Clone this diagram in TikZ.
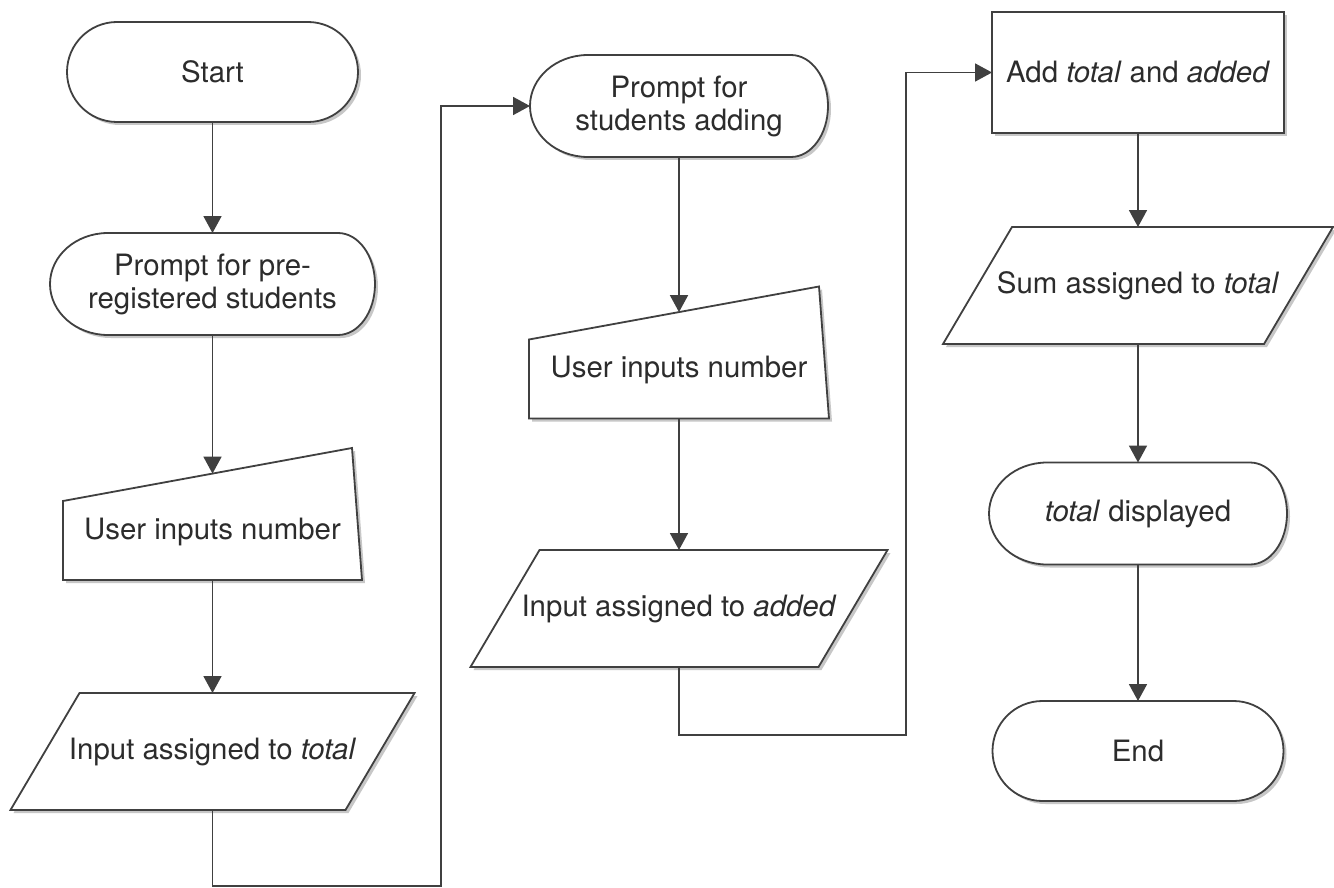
\documentclass[tikz,border=0pt]{standalone}
\usepackage{fontspec}
\setmainfont{TeX Gyre Heros}
\usetikzlibrary{arrows.meta, shapes.misc, shadows, backgrounds}

\definecolor{ink}{HTML}{2c2c2c}
\definecolor{edge}{HTML}{404040}

\tikzset{
  txt/.style={font=\fontsize{14.7}{16.5}\selectfont, text=ink, align=center, inner sep=2pt, outer sep=0pt},
  dropshade/.style={drop shadow={shadow xshift=1.5pt, shadow yshift=-1.5pt, fill=black!22, opacity=1}},
  outl/.style={draw=edge, line width=0.9pt, fill=white, dropshade},
  terminal/.style={txt, outl, rounded rectangle, minimum width=149.5pt, minimum height=50pt},
  process/.style={txt, outl, rectangle, minimum width=146pt, minimum height=60.5pt},
  iodata/.style={txt, minimum height=58.5pt},
  ask/.style={txt, minimum height=51pt},
  manual/.style={txt, minimum width=149.5pt, minimum height=66pt, text height=25pt, text depth=0pt},
  arr/.style={draw=edge, line width=0.9pt, -{Triangle[length=8.5pt, width=9pt]}}
}

\begin{document}
\begin{tikzpicture}[x=0.5pt, y=-0.5pt]
  \useasboundingbox (0,0) rectangle (1334,888);

  % left column
  \node[terminal] (start) at (212.5,72) {Start};
  \node[ask, minimum width=162.5pt] (ask1) at (212.5,284) {Prompt for pre-\\registered students};
  \node[manual] (input1) at (212.5,514) {User inputs number};
  \node[iodata, minimum width=202pt] (assign1) at (212.5,751.5) {Input assigned to \textit{total}};

  % middle column
  \node[ask, minimum width=149pt] (ask2) at (679,106) {Prompt for\\students adding};
  \node[manual, minimum width=150pt] (input2) at (679,352.5) {User inputs number};
  \node[iodata, minimum width=208.5pt] (assign2) at (679,608.5) {Input assigned to \textit{added}};

  % right column
  \node[process] (add) at (1138,72.5) {Add \textit{total} and \textit{added}};
  \node[iodata, minimum width=195pt] (assign3) at (1138,285.5) {Sum assigned to \textit{total}};
  \node[ask, minimum width=149pt] (show) at (1138,513.5) {\textit{total} displayed};
  \node[terminal] (stop) at (1138,751) {End};

  % corners of the long connectors
  \coordinate (bend1) at (441,886);
  \coordinate (bend2) at (906,735);

  % outlines of prompt, manual input and data boxes
  \begin{scope}[on background layer]
    \fill[white] (0,0) rectangle (1334,888);
    \foreach \n in {ask1,ask2,show}
      \draw[outl] ([xshift=29pt]\n.north west) -- ([xshift=-18.5pt]\n.north east)
        arc[start angle=90, end angle=-90, x radius=18.5pt, y radius=25.5pt]
        -- ([xshift=29pt]\n.south west)
        arc[start angle=270, end angle=90, x radius=29pt, y radius=25.5pt] -- cycle;
    \foreach \n in {input1,input2}
      \draw[outl] (\n.south west) -- ([yshift=-26.5pt]\n.north west)
        -- ([xshift=-5pt]\n.north east) -- (\n.south east) -- cycle;
    \foreach \n in {assign1,assign2,assign3}
      \draw[outl] ([xshift=34.5pt]\n.north west) -- (\n.north east)
        -- ([xshift=-34.5pt]\n.south east) -- (\n.south west) -- cycle;
  \end{scope}

  % connectors
  \draw[arr] (start.south) -- (ask1.north);
  \draw[arr] (ask1.south) -- ([yshift=-12.8pt]input1.north);
  \draw[arr] (input1.south) -- (assign1.north);
  \draw[arr] (assign1.south) |- (bend1) |- (ask2.west);
  \draw[arr] (ask2.south) -- ([yshift=-12.8pt]input2.north);
  \draw[arr] (input2.south) -- (assign2.north);
  \draw[arr] (assign2.south) |- (bend2) |- (add.west);
  \draw[arr] (add.south) -- (assign3.north);
  \draw[arr] (assign3.south) -- (show.north);
  \draw[arr] (show.south) -- (stop.north);
\end{tikzpicture}
\end{document}
